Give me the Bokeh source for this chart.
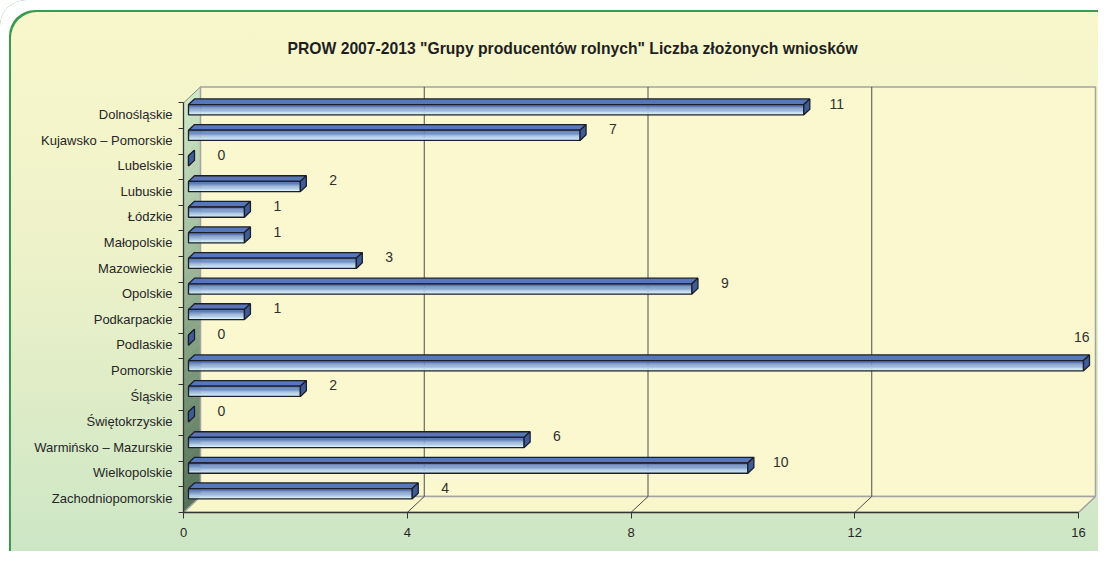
import numpy as np
from bokeh.plotting import figure
from bokeh.models import Range1d, FixedTicker, ColumnDataSource
from bokeh.core.properties import value
from bokeh.embed import file_html
from bokeh.resources import INLINE

# ---------------- data ----------------
regions = ["Dolnośląskie", "Kujawsko – Pomorskie", "Lubelskie", "Lubuskie", "Łódzkie",
           "Małopolskie", "Mazowieckie", "Opolskie", "Podkarpackie", "Podlaskie",
           "Pomorskie", "Śląskie", "Świętokrzyskie", "Warmińsko – Mazurskie",
           "Wielkopolskie", "Zachodniopomorskie"]
counts = [11, 7, 0, 2, 1, 1, 3, 9, 1, 0, 16, 2, 0, 6, 10, 4]
x_ticks = [0, 4, 8, 12, 16]
title_text = 'PROW 2007-2013 "Grupy producentów rolnych" Liczba złożonych wniosków'

# ---------------- layout ----------------
W, H = 1098, 551
ML, MR, MT, MB = 183, 0, 84, 39
FW, FH = W - ML - MR, H - MT - MB
XMAX = x_ticks[-1]
n = len(regions)
px_x = 895.0 / XMAX              # pixels per unit along x
top_gap = 18.4                   # px between frame top and front-axis top
px_y = (FH - top_gap) / n        # pixels per category
DX, DY = 17.0 / px_x, -16.0 / px_y   # depth vector (data units)
F1, F2 = 5.0 / 17.0, 11.0 / 17.0     # bar front/back depth fractions
HH = 0.2                               # half bar height (categories)
FONT = "Liberation Sans"

p = figure(width=W, height=H, output_backend="svg", toolbar_location=None,
           x_range=Range1d(0, FW / px_x), y_range=Range1d(n, -top_gap / px_y),
           min_border_left=ML, min_border_right=MR, min_border_top=MT, min_border_bottom=MB,
           title=title_text)
p.background_fill_color = None
p.border_fill_color = None
p.outline_line_color = None
p.xgrid.visible = False
p.ygrid.visible = False
p.styles = {
    "background": "linear-gradient(to bottom, #f9f7cc 0%, #eef2c9 45%, #cde6c5 100%)",
    "border-radius": "26px 0 0 0",
    "box-shadow": "inset 9px 10px 0 0 #ffffff, inset 11px 12px 0 0 #3b9a4d",
}

t = p.title
t.align = "left"
t.offset = 104
t.standoff = 55
t.text_font = FONT
t.text_font_size = "15.7px"
t.text_font_style = "bold"
t.text_color = "#1f1f1f"

# ---------------- walls ----------------
NS = 40
c_top = np.array([0xd0, 0xe9, 0xc8])
c_bot = np.array([0x55, 0x72, 0x58])
lw_xs, lw_ys, lw_c = [], [], []
for j in range(NS):
    ya, yb = n * j / NS, n * (j + 1) / NS
    lw_xs.append([0, DX, DX, 0])
    lw_ys.append([ya, ya + DY, yb + DY, yb])
    c = c_top + (c_bot - c_top) * (j + 0.5) / NS
    lw_c.append("#%02x%02x%02x" % tuple(int(v) for v in c))
p.patches(lw_xs, lw_ys, fill_color=lw_c, line_color=lw_c, line_width=0.5)
p.patch([0, DX, DX, 0], [0, DY, n + DY, n], fill_color=None, line_color="#8a8a8a", line_width=1)

# back wall
p.quad(left=DX, right=XMAX + DX, top=DY, bottom=n + DY,
       fill_color="#fbf8cf", line_color="#a3a3a3", line_width=1.5)
# floor
p.patch([0, XMAX, XMAX + DX, DX], [n, n, n + DY, n + DY],
        fill_color="#f9f6cb", line_color="#a3a3a3", line_width=1.5)

# grid lines on back wall and floor
inner = [v for v in x_ticks if 0 < v < XMAX]
p.segment(x0=[v + DX for v in inner], y0=[DY] * len(inner),
          x1=[v + DX for v in inner], y1=[n + DY] * len(inner),
          line_color="#4d4d4d", line_width=1)
p.segment(x0=inner, y0=[n] * len(inner), x1=[v + DX for v in inner], y1=[n + DY] * len(inner),
          line_color="#4d4d4d", line_width=1)

# ---------------- bars ----------------
yc = np.arange(n) + 0.45
vals = np.array(counts, dtype=float)
x0f, x1f = F1 * DX, vals + F1 * DX
x0b, x1b = F2 * DX, vals + F2 * DX
topf, botf = yc - HH + F1 * DY, yc + HH + F1 * DY
topb, botb = yc - HH + F2 * DY, yc + HH + F2 * DY

p.patches([[x0f, x1f[i], x1b[i], x0b] for i in range(n)],
          [[topf[i], topf[i], topb[i], topb[i]] for i in range(n)],
          fill_color="#5677bb", line_color="#1c1f2b", line_width=1.3)

NB = 8
fc_top = np.array([0x4a, 0x69, 0xb0])
fc_bot = np.array([0xd6, 0xf0, 0xfc])
for j in range(NB):
    c = fc_top + (fc_bot - fc_top) * j / (NB - 1)
    col = "#%02x%02x%02x" % tuple(int(v) for v in c)
    p.quad(left=[x0f] * n, right=x1f,
           top=topf + 2 * HH * j / NB, bottom=topf + 2 * HH * (j + 1) / NB,
           fill_color=col, line_color=col, line_width=0.3)
p.quad(left=[x0f] * n, right=x1f, top=topf, bottom=botf,
       fill_color=None, line_color="#1c1f2b", line_width=1.3)

p.patches([[x1f[i], x1b[i], x1b[i], x1f[i]] for i in range(n)],
          [[topf[i], topb[i], botb[i], botf[i]] for i in range(n)],
          fill_color="#3e5c97", line_color="#1c1f2b", line_width=1.3)

# ---------------- value labels ----------------
x_lim = FW / px_x
lx, ly, la = [], [], []
for i, v in enumerate(counts):
    x = v + F2 * DX + 0.48
    if x + 0.3 > x_lim:
        lx.append(v + F2 * DX); ly.append(i + 0.5 - 1.37); la.append("right")
    else:
        lx.append(x); ly.append(i + 0.5 - 0.47); la.append("center")
src = ColumnDataSource(dict(x=lx, y=ly, text=[str(v) for v in counts], align=la))
p.text(x="x", y="y", text="text", text_align="align", text_baseline="middle",
       text_font=value(FONT), text_font_size="14px", text_color="#303030", source=src)

# ---------------- axes ----------------
xa = p.xaxis[0]
xa.ticker = FixedTicker(ticks=x_ticks)
xa.bounds = (0, XMAX)
xa.axis_line_color = "#333333"
xa.axis_line_width = 1.3
xa.major_tick_out = 6
xa.major_tick_in = 0
xa.major_tick_line_color = "#333333"
xa.minor_tick_out = 0
xa.minor_tick_in = 0
xa.major_label_standoff = 9
xa.major_label_text_font = FONT
xa.major_label_text_font_size = "13px"
xa.major_label_text_color = "#262626"

ya_ = p.yaxis[0]
ya_.ticker = FixedTicker(ticks=list(yc), minor_ticks=list(range(n + 1)))
ya_.major_label_overrides = {float(yc[i]): regions[i] for i in range(n)}
ya_.bounds = (0, n)
ya_.axis_line_color = "#333333"
ya_.axis_line_width = 1.3
ya_.major_tick_out = 0
ya_.major_tick_in = 0
ya_.minor_tick_out = 5
ya_.minor_tick_in = 0
ya_.minor_tick_line_color = "#333333"
ya_.major_label_standoff = 6
ya_.major_label_text_font = FONT
ya_.major_label_text_font_size = "13px"
ya_.major_label_text_color = "#262626"

open("out.html", "w").write(file_html(p, INLINE))
